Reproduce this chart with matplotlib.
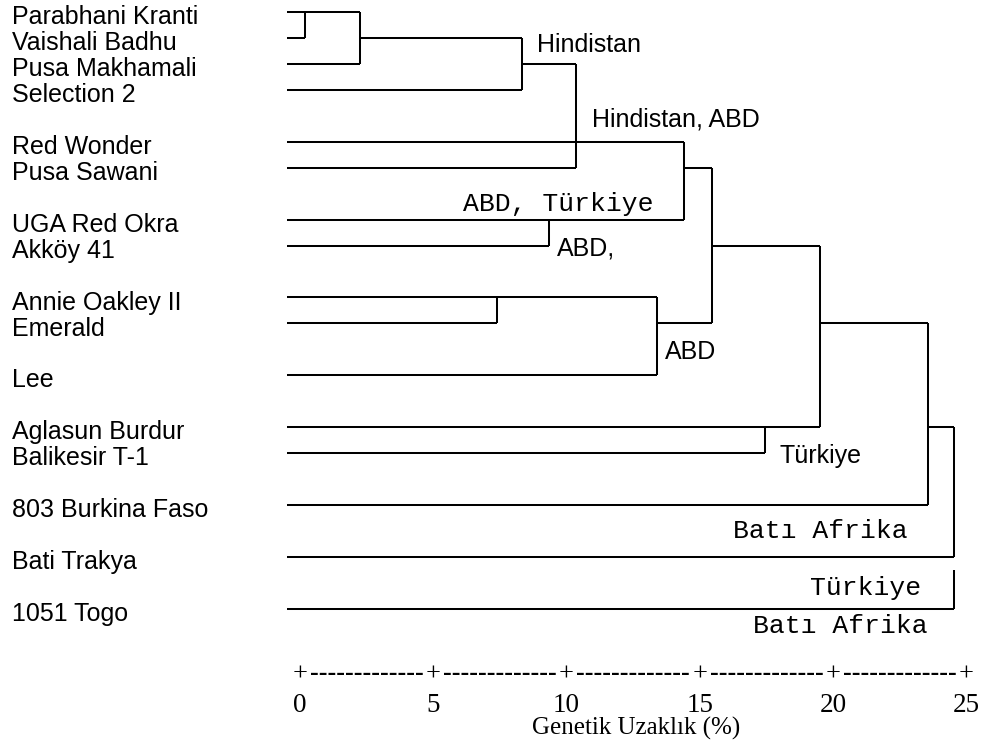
import matplotlib
matplotlib.use("Agg")
import matplotlib.pyplot as plt
from matplotlib.transforms import blended_transform_factory

# ---------------- data ----------------
leaves = ["Parabhani Kranti", "Vaishali Badhu", "Pusa Makhamali", "Selection 2",
          "Red Wonder", "Pusa Sawani", "UGA Red Okra", "Akköy 41",
          "Annie Oakley II", "Emerald", "Lee", "Aglasun Burdur", "Balikesir T-1",
          "803 Burkina Faso", "Bati Trakya", "1051 Togo"]
leaf_slots = [0, 1, 2, 3, 5, 6, 8, 9, 11, 12, 14, 16, 17, 19, 21, 23]

# merges: name, children, distance (%), row slot of the outgoing branch
merge_names = ["n1", "n2", "n3", "n4", "n5", "n6", "n7", "n8", "n9", "n10", "n11", "n12", "n13"]
merge_children = [["L0", "L1"], ["n1", "L2"], ["n2", "L3"], ["n3", "L4", "L5"],
                  ["L6", "L7"], ["n4", "n5"], ["L8", "L9"], ["n7", "L10"],
                  ["n6", "n8"], ["L11", "L12"], ["n9", "n10"], ["n11", "L13"],
                  ["n12", "L14"]]
merge_dist = [0.19, 2.25, 8.33, 10.36, 9.34, 14.41, 7.39, 13.40, 15.46,
              17.45, 19.51, 23.56, 24.54]
merge_out_slot = [0, 1, 2, 5, 8, 6, 11, 12, 9, 16, 12, 16, None]
# last leaf joins the root at the root distance
tail_leaf = "L15"

# group annotations: text, x (distance), row slot (baseline), font kind
ann_text = ["Hindistan", "Hindistan, ABD", "ABD, Türkiye", "ABD,", "ABD",
            "Türkiye", "Batı Afrika", "Türkiye", "Batı Afrika"]
ann_x = [8.89, 10.96, 6.12, 9.64, 13.70, 18.01, 16.25, 19.14, 17.00]
ann_slot = [1.55, 4.43, 7.67, 9.40, 13.37, 17.38, 20.27, 22.47, 23.93]
ann_mono = [False, False, True, False, False, False, True, True, True]

tick_values = [0, 5, 10, 15, 20, 25]
tick_labels = ["0", "5", "10", "15", "20", "25"]
dash_counts = [13, 13, 13, 13, 13]
xlabel = "Genetik Uzaklık (%)"

# ---------------- drawing ----------------
LEAF_START = -0.49
LW = 1.45
SANS = "Liberation Sans"
SERIF = "Liberation Serif"
MONO = "Liberation Mono"

fig = plt.figure(figsize=(9.84, 7.51), dpi=100)
ax = fig.add_axes([0, 0, 1, 1])
ax.set_xlim(-11.257, 25.666)
ax.set_ylim(28.478, -0.4624)
ax.axis("off")

pos = {}  # node -> (x end, y slot)
for i, s in enumerate(leaf_slots):
    pos[f"L{i}"] = (LEAF_START, s)
    ax.text(-10.81, s + 0.47, leaves[i], fontsize=18, family=SANS,
            va="baseline", ha="left", color="black")

for name, ch, d, out in zip(merge_names, merge_children, merge_dist, merge_out_slot):
    ys = []
    for c in ch:
        cx, cy = pos[c]
        ax.plot([cx, d], [cy, cy], color="black", lw=LW, solid_capstyle="butt")
        ys.append(cy)
    ax.plot([d, d], [min(ys), max(ys)], color="black", lw=LW, solid_capstyle="butt")
    if out is not None:
        pos[name] = (d, out)

# tail leaf to root
root_d = merge_dist[-1]
tx, ty = pos[tail_leaf]
ax.plot([tx, root_d], [ty, ty], color="black", lw=LW, solid_capstyle="butt")
ax.plot([root_d, root_d], [ty - 1.5, ty], color="black", lw=LW, solid_capstyle="butt")

for t, x, s, m in zip(ann_text, ann_x, ann_slot, ann_mono):
    ax.text(x, s, t, fontsize=19 if m else 18, family=MONO if m else SANS,
            va="baseline", ha="left", color="black")

# scale
tr = blended_transform_factory(ax.transData, ax.transAxes)
for v, lab in zip(tick_values, tick_labels):
    ax.text(v, 0.0945, "+", transform=tr, fontsize=19, family=SERIF,
            ha="center", va="baseline")
    ax.text(v, 0.0519, lab, transform=tr, fontsize=19.5, family=SERIF,
            ha="center", va="baseline")
for i, n in enumerate(dash_counts):
    a, b = tick_values[i], tick_values[i + 1]
    ax.text((a + b) / 2, 0.0945, "-" * n, transform=tr, fontsize=18.5,
            family=SERIF, ha="center", va="baseline", fontweight="bold")
ax.text(12.6, 0.022, xlabel, transform=tr, fontsize=18, family=SERIF,
        ha="center", va="baseline")

fig.savefig("out.png", dpi=100)
